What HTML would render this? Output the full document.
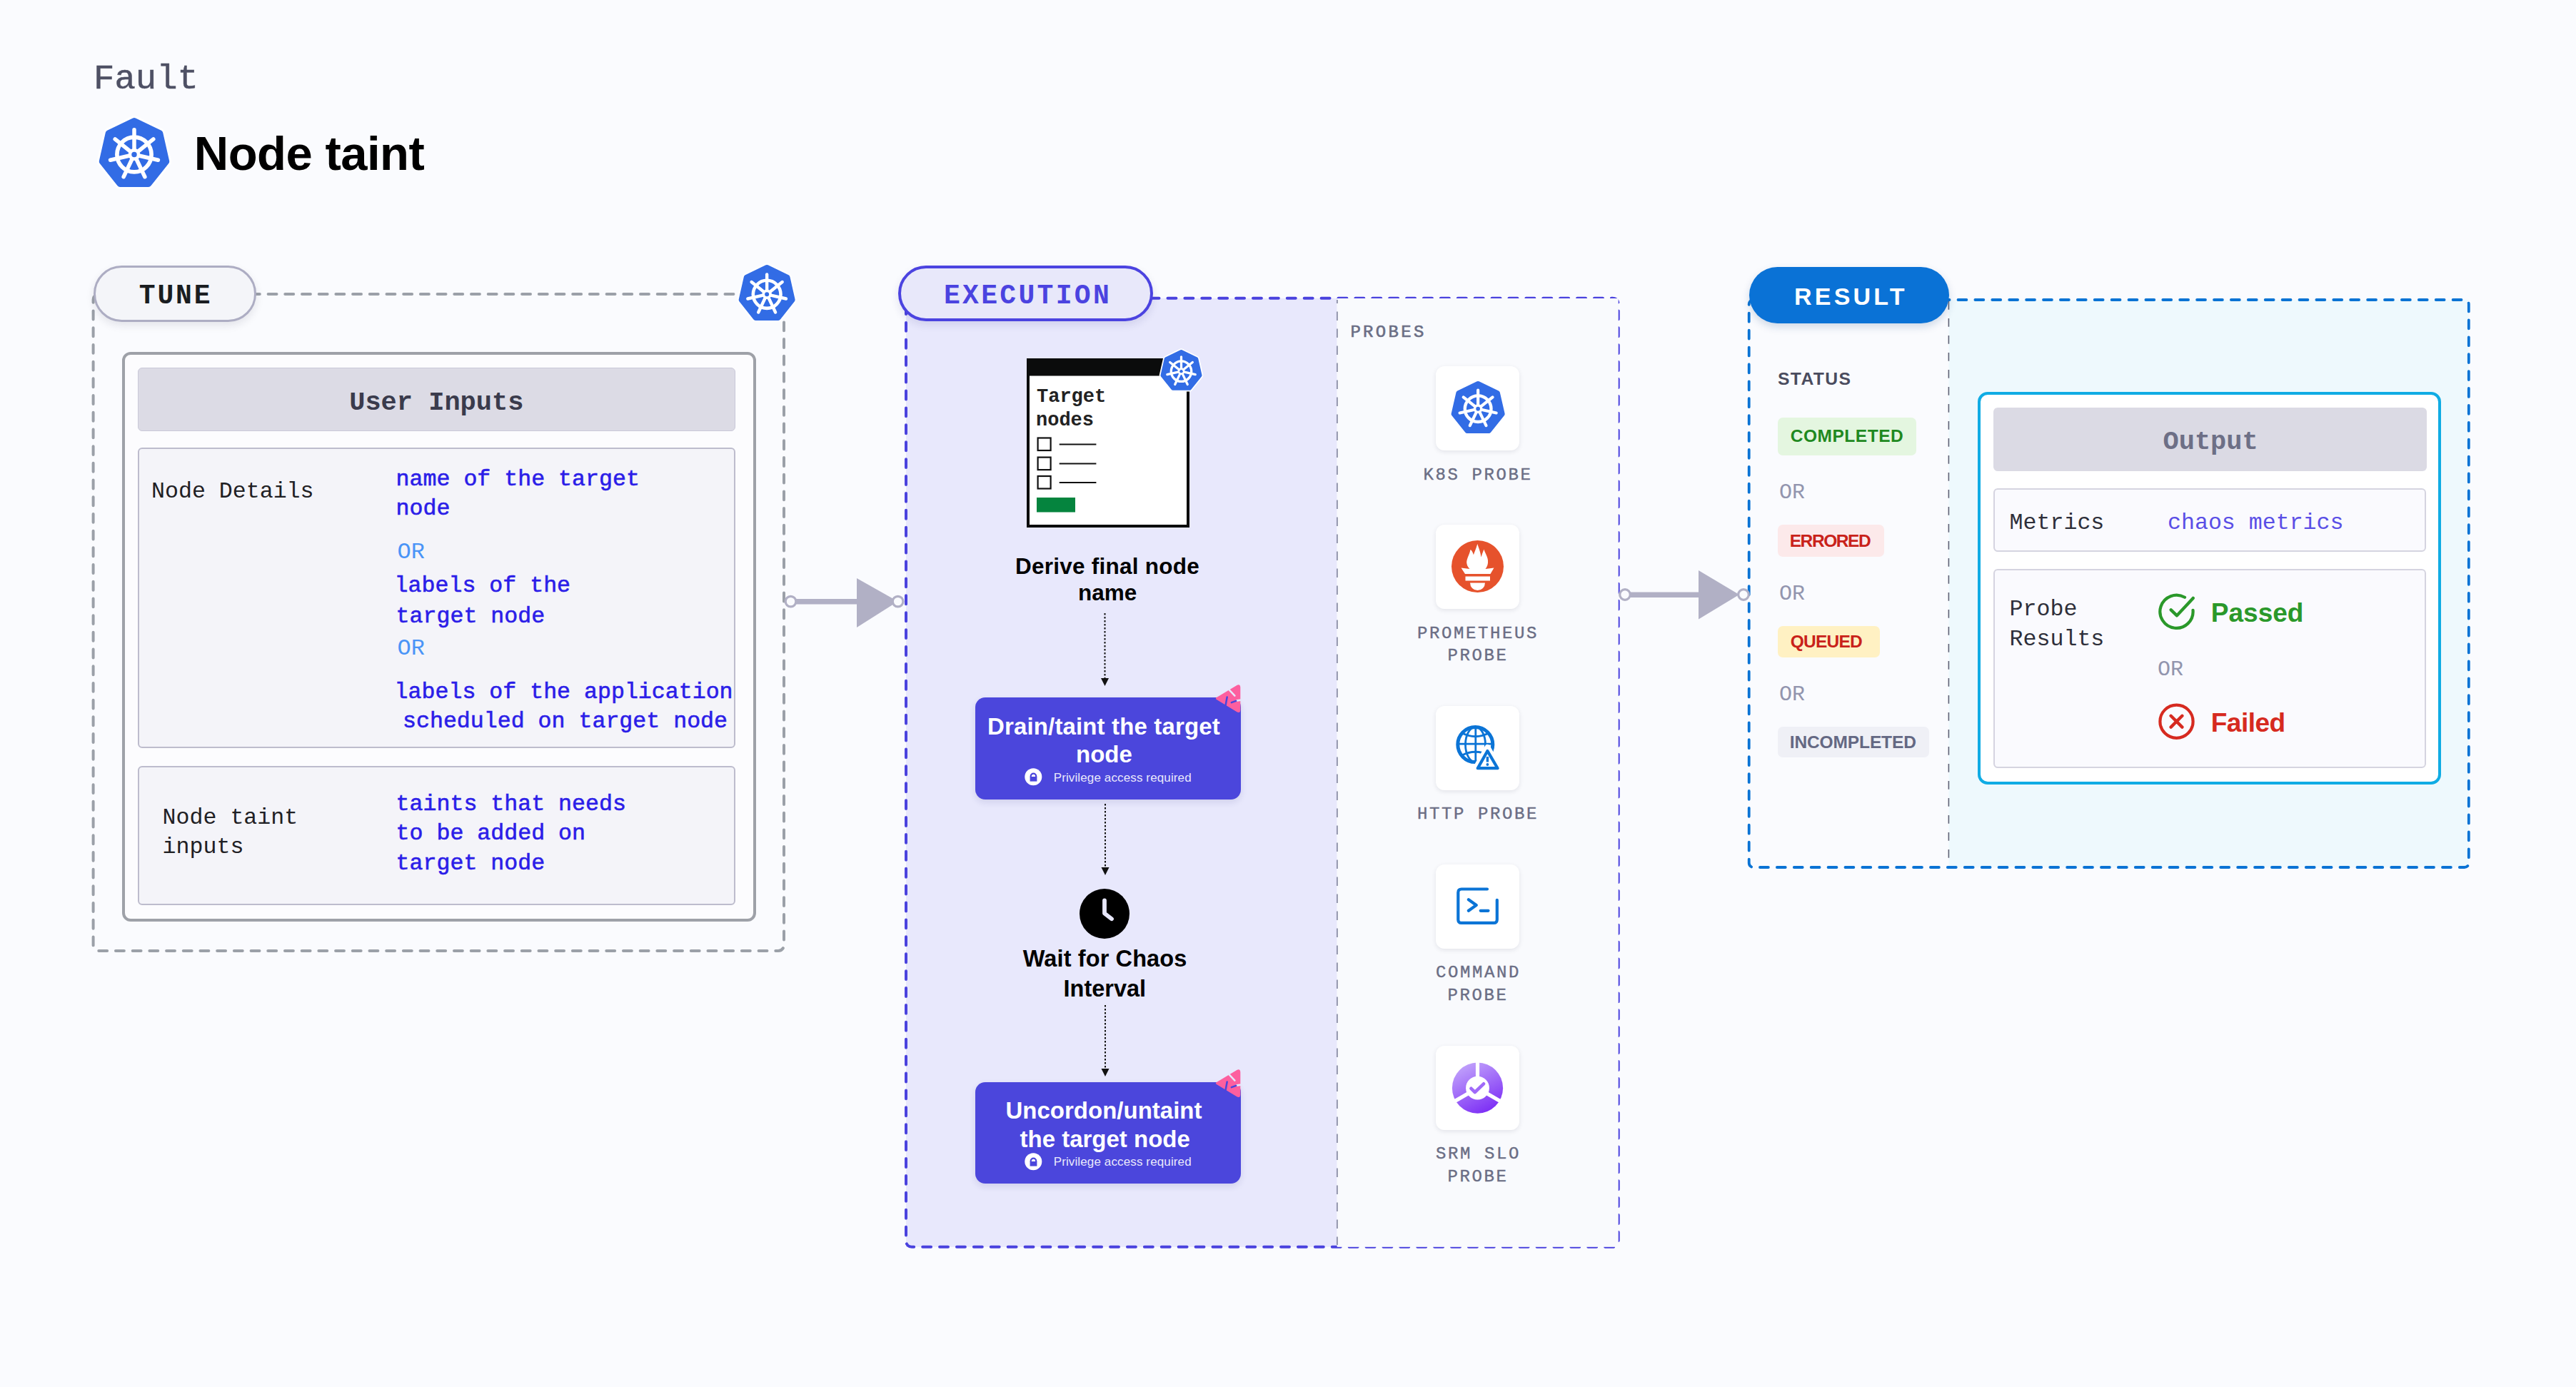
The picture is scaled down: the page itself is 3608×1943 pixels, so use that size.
<!DOCTYPE html>
<html><head><meta charset="utf-8">
<style>
html,body{margin:0;padding:0;}
body{width:3608px;height:1943px;background:#FAFBFE;position:relative;overflow:hidden;font-family:"Liberation Sans",sans-serif;}
.a{position:absolute;}
.t{position:absolute;white-space:pre;line-height:1;}
.fm{font-family:"Liberation Mono",monospace;}
.fs{font-family:"Liberation Sans",sans-serif;}
svg{position:absolute;overflow:visible;}
</style></head><body>
<svg width="0" height="0" style="position:absolute"><defs><symbol id="k8s" viewBox="0 0 100 100" overflow="visible">
<polygon points="50.00,4.44 86.64,22.08 95.69,61.73 70.33,93.52 29.67,93.52 4.31,61.73 13.36,22.08" fill="#fff" stroke="#fff" stroke-width="15" stroke-linejoin="round"/>
<polygon points="50.00,4.44 86.64,22.08 95.69,61.73 70.33,93.52 29.67,93.52 4.31,61.73 13.36,22.08" fill="#326CE5" stroke="#326CE5" stroke-width="9" stroke-linejoin="round"/>
<g stroke="#fff" fill="none" stroke-linecap="round">
<circle cx="50" cy="52" r="24.6" stroke-width="5.8"/>
<g stroke-width="5.6"><line x1="50" y1="52" x2="50" y2="17" transform="rotate(0.00 50 52)"/><line x1="50" y1="52" x2="50" y2="17" transform="rotate(51.43 50 52)"/><line x1="50" y1="52" x2="50" y2="17" transform="rotate(102.86 50 52)"/><line x1="50" y1="52" x2="50" y2="17" transform="rotate(154.29 50 52)"/><line x1="50" y1="52" x2="50" y2="17" transform="rotate(205.71 50 52)"/><line x1="50" y1="52" x2="50" y2="17" transform="rotate(257.14 50 52)"/><line x1="50" y1="52" x2="50" y2="17" transform="rotate(308.57 50 52)"/></g>
</g>
<circle cx="50" cy="52" r="8.5" fill="#fff"/>
<circle cx="50" cy="52" r="3.8" fill="#326CE5"/>
</symbol></defs></svg>
<svg style="left:0;top:0" width="3608" height="1943">
<rect x="130.6" y="411.9" width="967.4" height="920.1" rx="8" fill="none" stroke="#9BA0A8" stroke-width="4" stroke-dasharray="11.9 11.8" stroke-linecap="round"/>
<rect x="1269" y="417.8" width="603.7" height="1329" fill="#E8E8FC"/>
<rect x="1269" y="417.8" width="997.7" height="1329" rx="8" fill="none" stroke="#4A42DE" stroke-width="4" stroke-dasharray="11.9 12" stroke-linecap="round"/>
<rect x="1872.7" y="418" width="394" height="1328.8" fill="#F9FAFD"/>
<line x1="1872.9" y1="420" x2="1872.9" y2="1744" stroke="#9497AD" stroke-width="2" stroke-dasharray="12.3 11.7" stroke-dashoffset="7.4"/>
<rect x="2729.4" y="420" width="728.4" height="795" fill="#EEF9FD"/>
<rect x="2449.7" y="420" width="1008.1" height="795" rx="6" fill="none" stroke="#0A73D4" stroke-width="3.8" stroke-dasharray="11.9 12" stroke-linecap="round"/>
<line x1="2729.4" y1="422" x2="2729.4" y2="1213" stroke="#5F6175" stroke-width="1.6" stroke-dasharray="11.8 12.2"/>
<g fill="#B1B0C5" stroke="none">
<rect x="1112" y="839" width="92" height="7.5"/>
<polygon points="1200,810 1257.6,842.6 1200,879"/>
<rect x="2280" y="829.5" width="102" height="7.5"/>
<polygon points="2379,799 2436,833 2379,867.6"/>
</g>
<g fill="#FAFBFE" stroke="#B1B0C5" stroke-width="3.2">
<circle cx="1107.5" cy="842.6" r="7.3"/>
<circle cx="1257.6" cy="842.6" r="7.3"/>
<circle cx="2276" cy="833" r="7.3"/>
<circle cx="2442" cy="833" r="7.3"/>
</g>
</svg>
<div class="t fm" style="left:131.00px;top:87.46px;font-size:49px;font-weight:normal;color:#4E5064;letter-spacing:0.000px;-webkit-text-stroke:0.5px #4E5064;">Fault</div>
<svg style="left:138px;top:165px" width="100" height="99" viewBox="0 0 100 98" preserveAspectRatio="none"><use href="#k8s"/></svg>
<div class="t fs" style="left:271.80px;top:181.27px;font-size:67px;font-weight:bold;color:#000;letter-spacing:-0.500px;">Node taint</div>
<div class="a" style="left:131.3px;top:371.9px;width:227.39999999999998px;height:78.70000000000005px;box-sizing:border-box;border:3.8px solid #ADADC3;background:#F4F5F9;border-radius:40px;box-shadow:0 5px 12px rgba(30,30,60,0.10);"></div>
<div class="t fm" style="left:194.70px;top:395.99px;font-size:38px;font-weight:bold;color:#1A1D21;letter-spacing:2.900px;">TUNE</div>
<svg style="left:1034.4px;top:370.8px" width="80.29999999999995" height="79.5" viewBox="0 0 100 98" preserveAspectRatio="none"><use href="#k8s"/></svg>
<div class="a" style="left:171px;top:493px;width:888px;height:798px;box-sizing:border-box;border:4px solid #9EA1A8;background:#FCFCFE;border-radius:12px;"></div>
<div class="a" style="left:193px;top:515px;width:837px;height:89px;box-sizing:border-box;border:1.5px solid #C9C8D8;background:#DCDBE5;border-radius:6px;"></div>
<div class="t fm" style="left:489.20px;top:546.05px;font-size:37px;font-weight:bold;color:#3A3B4C;letter-spacing:0.000px;">User Inputs</div>
<div class="a" style="left:193px;top:627px;width:837px;height:421px;box-sizing:border-box;border:2px solid #BDBCCD;background:#F4F4F9;border-radius:6px;"></div>
<div class="a" style="left:193px;top:1073px;width:837px;height:195px;box-sizing:border-box;border:2px solid #BDBCCD;background:#F4F4F9;border-radius:6px;"></div>
<div class="t fm" style="left:212.00px;top:672.79px;font-size:31.6px;font-weight:normal;color:#1F2024;letter-spacing:0.000px;">Node Details</div>
<div class="t fm" style="left:554.60px;top:655.79px;font-size:31.6px;font-weight:normal;color:#2B1DE8;letter-spacing:0.000px;-webkit-text-stroke:0.6px #2B1DE8;">name of the target</div>
<div class="t fm" style="left:554.60px;top:696.79px;font-size:31.6px;font-weight:normal;color:#2B1DE8;letter-spacing:0.000px;-webkit-text-stroke:0.6px #2B1DE8;">node</div>
<div class="t fm" style="left:556.50px;top:758.48px;font-size:32px;font-weight:normal;color:#4A94F7;letter-spacing:0.000px;">OR</div>
<div class="t fm" style="left:552.60px;top:804.79px;font-size:31.6px;font-weight:normal;color:#2B1DE8;letter-spacing:0.000px;-webkit-text-stroke:0.6px #2B1DE8;">labels of the</div>
<div class="t fm" style="left:554.60px;top:847.79px;font-size:31.6px;font-weight:normal;color:#2B1DE8;letter-spacing:0.000px;-webkit-text-stroke:0.6px #2B1DE8;">target node</div>
<div class="t fm" style="left:556.50px;top:892.98px;font-size:32px;font-weight:normal;color:#4A94F7;letter-spacing:0.000px;">OR</div>
<div class="t fm" style="left:552.60px;top:953.79px;font-size:31.6px;font-weight:normal;color:#2B1DE8;letter-spacing:0.000px;-webkit-text-stroke:0.6px #2B1DE8;">labels of the application</div>
<div class="t fm" style="left:564.00px;top:994.79px;font-size:31.6px;font-weight:normal;color:#2B1DE8;letter-spacing:0.000px;-webkit-text-stroke:0.6px #2B1DE8;">scheduled on target node</div>
<div class="t fm" style="left:227.60px;top:1129.79px;font-size:31.6px;font-weight:normal;color:#1F2024;letter-spacing:0.000px;">Node taint</div>
<div class="t fm" style="left:227.60px;top:1170.79px;font-size:31.6px;font-weight:normal;color:#1F2024;letter-spacing:0.000px;">inputs</div>
<div class="t fm" style="left:554.60px;top:1111.39px;font-size:31.6px;font-weight:normal;color:#2B1DE8;letter-spacing:0.000px;-webkit-text-stroke:0.6px #2B1DE8;">taints that needs</div>
<div class="t fm" style="left:554.60px;top:1152.49px;font-size:31.6px;font-weight:normal;color:#2B1DE8;letter-spacing:0.000px;-webkit-text-stroke:0.6px #2B1DE8;">to be added on</div>
<div class="t fm" style="left:554.60px;top:1193.79px;font-size:31.6px;font-weight:normal;color:#2B1DE8;letter-spacing:0.000px;-webkit-text-stroke:0.6px #2B1DE8;">target node</div>
<div class="a" style="left:1257.8px;top:372px;width:357.20000000000005px;height:77.80000000000001px;box-sizing:border-box;border:4px solid #4B43E0;background:#E8E8FA;border-radius:40px;box-shadow:0 5px 12px rgba(40,40,120,0.12);"></div>
<div class="t fm" style="left:1322.00px;top:396.49px;font-size:38px;font-weight:bold;color:#4B43E0;letter-spacing:3.312px;">EXECUTION</div>
<svg style="left:1436px;top:488px" width="250" height="252">
<rect x="4" y="16" width="224" height="233" fill="#fff" stroke="#0B0C0C" stroke-width="4"/>
<rect x="2" y="14" width="228" height="24.5" fill="#0B0C0C"/>
<g fill="none" stroke="#111" stroke-width="2.2">
<rect x="17.6" y="125.5" width="18" height="17.5"/>
<rect x="17.6" y="152.6" width="18" height="17.5"/>
<rect x="17.6" y="179" width="18" height="17.5"/>
</g>
<g stroke="#111" stroke-width="2"><line x1="47.7" y1="134.6" x2="99.4" y2="134.6"/><line x1="47.7" y1="161.6" x2="99.4" y2="161.6"/><line x1="47.7" y1="188" x2="99.4" y2="188"/></g>
<rect x="16" y="209" width="54" height="20.5" fill="#05843E"/>
</svg>
<svg style="left:1625px;top:490px" width="59" height="58" viewBox="0 0 100 98" preserveAspectRatio="none"><use href="#k8s"/></svg>
<div class="t fm" style="left:1452.00px;top:543.32px;font-size:27px;font-weight:bold;color:#222;letter-spacing:0.000px;">Target</div>
<div class="t fm" style="left:1451.00px;top:575.62px;font-size:27px;font-weight:bold;color:#222;letter-spacing:0.000px;">nodes</div>
<div class="t fs" style="left:1422.00px;top:778.33px;font-size:31.5px;font-weight:bold;color:#000;letter-spacing:0.250px;">Derive final node</div>
<div class="t fs" style="left:1510.00px;top:815.33px;font-size:31.5px;font-weight:bold;color:#000;letter-spacing:0.000px;">name</div>
<svg style="left:0;top:0" width="3608" height="1943">
<g stroke="#111" stroke-width="2" stroke-dasharray="2.5 2.5">
<line x1="1547.5" y1="859" x2="1547.5" y2="952"/>
<line x1="1548" y1="1126" x2="1548" y2="1217"/>
<line x1="1548" y1="1408" x2="1548" y2="1499"/>
</g>
<g fill="#111">
<polygon points="1542,950 1553,950 1547.5,961"/>
<polygon points="1542.5,1215 1553.5,1215 1548,1226"/>
<polygon points="1542.5,1497 1553.5,1497 1548,1508"/>
</g>
</svg>
<div class="a" style="left:1366px;top:977.4px;width:372px;height:142.19999999999993px;box-sizing:border-box;background:#4B46DC;border-radius:14px;box-shadow:0 4px 10px rgba(40,40,120,0.12);"></div>
<div class="t fs" style="left:1383.00px;top:1000.86px;font-size:33px;font-weight:bold;color:#fff;letter-spacing:0.143px;">Drain/taint the target</div>
<div class="t fs" style="left:1507.00px;top:1039.86px;font-size:33px;font-weight:bold;color:#fff;letter-spacing:0.000px;">node</div>
<div class="t fs" style="left:1475.70px;top:1080.61px;font-size:17px;font-weight:normal;color:#E9E8FB;letter-spacing:0.125px;">Privilege access required</div>
<svg style="left:1433.7px;top:1075px" width="26" height="26" viewBox="0 0 26 26">
<circle cx="13.3" cy="13.3" r="12" fill="#fff"/>
<path d="M9.7 13.5 V12.4 a3.75 3.75 0 0 1 7.5 0 V13.5" fill="none" stroke="#4B46DC" stroke-width="2.2"/>
<rect x="8.6" y="13" width="9.8" height="6.6" fill="#4B46DC"/>
</svg>
<svg style="left:1699px;top:958.4px" width="39" height="41" viewBox="0 0 40 42">
<path d="M5.5 21 L35 3.2 Q37.8 1.6 37.8 4.8 L37.8 37.4 Q37.8 40.6 35 39 Z" fill="#FD5F9F" stroke="#FD5F9F" stroke-width="3" stroke-linejoin="round"/>
<path d="M23 8.2 L31.2 17" fill="none" stroke="#E6E6FA" stroke-width="2.6" stroke-linecap="round"/>
<path d="M33 24.2 L40 23.2" fill="none" stroke="#E6E6FA" stroke-width="2.8"/>
<path d="M20.2 19 L17.6 33" fill="none" stroke="#4B46DC" stroke-width="2.6" stroke-linecap="round"/>
<path d="M26.5 26.8 L33 24.4" fill="none" stroke="#4B46DC" stroke-width="2.6" stroke-linecap="round"/>
</svg>
<div class="a" style="left:1366px;top:1516px;width:372px;height:141.70000000000005px;box-sizing:border-box;background:#4B46DC;border-radius:14px;box-shadow:0 4px 10px rgba(40,40,120,0.12);"></div>
<div class="t fs" style="left:1408.50px;top:1538.96px;font-size:33px;font-weight:bold;color:#fff;letter-spacing:0.000px;">Uncordon/untaint</div>
<div class="t fs" style="left:1428.50px;top:1579.06px;font-size:33px;font-weight:bold;color:#fff;letter-spacing:0.000px;">the target node</div>
<div class="t fs" style="left:1475.70px;top:1618.61px;font-size:17px;font-weight:normal;color:#E9E8FB;letter-spacing:0.125px;">Privilege access required</div>
<svg style="left:1434px;top:1614px" width="26" height="26" viewBox="0 0 26 26">
<circle cx="13.3" cy="13.3" r="12" fill="#fff"/>
<path d="M9.7 13.5 V12.4 a3.75 3.75 0 0 1 7.5 0 V13.5" fill="none" stroke="#4B46DC" stroke-width="2.2"/>
<rect x="8.6" y="13" width="9.8" height="6.6" fill="#4B46DC"/>
</svg>
<svg style="left:1699px;top:1497px" width="39" height="41" viewBox="0 0 40 42">
<path d="M5.5 21 L35 3.2 Q37.8 1.6 37.8 4.8 L37.8 37.4 Q37.8 40.6 35 39 Z" fill="#FD5F9F" stroke="#FD5F9F" stroke-width="3" stroke-linejoin="round"/>
<path d="M23 8.2 L31.2 17" fill="none" stroke="#E6E6FA" stroke-width="2.6" stroke-linecap="round"/>
<path d="M33 24.2 L40 23.2" fill="none" stroke="#E6E6FA" stroke-width="2.8"/>
<path d="M20.2 19 L17.6 33" fill="none" stroke="#4B46DC" stroke-width="2.6" stroke-linecap="round"/>
<path d="M26.5 26.8 L33 24.4" fill="none" stroke="#4B46DC" stroke-width="2.6" stroke-linecap="round"/>
</svg>
<svg style="left:1512px;top:1245px" width="70" height="70" viewBox="0 0 70 70">
<circle cx="35" cy="35" r="35" fill="#000"/>
<path d="M35 16.3 V34.5 L45 42.3" fill="none" stroke="#E8E8FC" stroke-width="5.8" stroke-linecap="round" stroke-linejoin="round"/>
</svg>
<div class="t fs" style="left:1432.75px;top:1327.18px;font-size:32.5px;font-weight:bold;color:#000;letter-spacing:0.115px;">Wait for Chaos</div>
<div class="t fs" style="left:1489.50px;top:1369.08px;font-size:32.5px;font-weight:bold;color:#000;letter-spacing:0.000px;">Interval</div>
<div class="t fm" style="left:1891.40px;top:453.61px;font-size:24px;font-weight:normal;color:#6B6E85;letter-spacing:3.320px;-webkit-text-stroke:0.6px #6B6E85;">PROBES</div>
<div class="a" style="left:2011px;top:513px;width:117px;height:118px;box-sizing:border-box;background:#fff;border-radius:12px;box-shadow:0 2px 6px rgba(30,30,60,0.10);"></div>
<div class="a" style="left:2011px;top:735px;width:117px;height:118px;box-sizing:border-box;background:#fff;border-radius:12px;box-shadow:0 2px 6px rgba(30,30,60,0.10);"></div>
<div class="a" style="left:2011px;top:989px;width:117px;height:118px;box-sizing:border-box;background:#fff;border-radius:12px;box-shadow:0 2px 6px rgba(30,30,60,0.10);"></div>
<div class="a" style="left:2011px;top:1211px;width:117px;height:118px;box-sizing:border-box;background:#fff;border-radius:12px;box-shadow:0 2px 6px rgba(30,30,60,0.10);"></div>
<div class="a" style="left:2011px;top:1465px;width:117px;height:118px;box-sizing:border-box;background:#fff;border-radius:12px;box-shadow:0 2px 6px rgba(30,30,60,0.10);"></div>
<svg style="left:2031.7px;top:533.6px" width="76.29999999999995" height="74.39999999999998" viewBox="0 0 100 98" preserveAspectRatio="none"><use href="#k8s"/></svg>
<div class="t fm" style="left:1993.50px;top:653.61px;font-size:24px;font-weight:normal;color:#6B6E85;letter-spacing:2.600px;-webkit-text-stroke:0.4px #6B6E85;">K8S PROBE</div>
<svg style="left:2033px;top:757px" width="73" height="73" viewBox="0 0 73 73">
<circle cx="36.5" cy="36.5" r="36.5" fill="#E6522C"/>
<path fill="#fff" d="M36.3 5 C34 13 31.5 17.5 31 20.5 C29.5 16 28 13.5 26.5 13 C25 21 20 27 21.5 33 C22 36 24 38.5 25.5 40 L13.5 38.5 L19 47 L54.5 47 L59.5 38.5 L47.5 40 C50 37 51.5 33 51 28 C50.5 22 46.5 17 45.5 12.5 C43.5 17 42.5 20.5 41.5 23.5 C40.5 15.5 37.5 9 36.3 5 Z"/>
<rect x="19.5" y="50.5" width="34.5" height="6" fill="#fff"/>
<path fill="#fff" d="M26 59.5 H47 A10.5 10.5 0 0 1 26 59.5 Z"/>
</svg>
<div class="t fm" style="left:1985.00px;top:875.61px;font-size:24px;font-weight:normal;color:#6B6E85;letter-spacing:2.600px;-webkit-text-stroke:0.4px #6B6E85;">PROMETHEUS</div>
<div class="t fm" style="left:2027.50px;top:906.61px;font-size:24px;font-weight:normal;color:#6B6E85;letter-spacing:2.600px;-webkit-text-stroke:0.4px #6B6E85;">PROBE</div>
<svg style="left:2010px;top:985px" width="120" height="125" viewBox="0 0 120 125">
<g fill="none" stroke="#0B74D6">
<circle cx="56.3" cy="58.1" r="24.5" stroke-width="5"/>
<ellipse cx="56.5" cy="58.1" rx="14" ry="24.5" stroke-width="2.8"/>
<line x1="56.8" y1="34" x2="56.8" y2="82" stroke-width="2.8"/>
<line x1="32" y1="57.2" x2="80.5" y2="57.2" stroke-width="2.8"/>
<path d="M37 41.5 Q56.5 52 76 41.5" stroke-width="2.8"/>
<path d="M37 73.5 Q56.5 63 76 73.5" stroke-width="2.8"/>
</g>
<path d="M73.4 62 L92.5 95.5 H54.5 Z" fill="#fff" stroke="#fff" stroke-width="8" stroke-linejoin="round"/>
<path d="M73.4 67 L87.6 91.2 H59.7 Z" fill="#fff" stroke="#0B74D6" stroke-width="4.2" stroke-linejoin="round"/>
<line x1="73.4" y1="75" x2="73.4" y2="82.5" stroke="#0B74D6" stroke-width="3.4"/>
<circle cx="73.4" cy="86" r="1.9" fill="#0B74D6"/>
</svg>
<div class="t fm" style="left:1985.00px;top:1129.31px;font-size:24px;font-weight:normal;color:#6B6E85;letter-spacing:2.600px;-webkit-text-stroke:0.4px #6B6E85;">HTTP PROBE</div>
<svg style="left:2010px;top:1205px" width="120" height="130" viewBox="0 0 120 130">
<g fill="none" stroke="#0B74D6" stroke-width="4.2" stroke-linecap="round" stroke-linejoin="round">
<path d="M73 40.5 H37 Q32.3 40.5 32.3 45.2 V83.2 Q32.3 87.9 37 87.9 H82.1 Q86.8 87.9 86.8 83.2 V55.8"/>
<path d="M46.9 55.3 L57.7 63 L46.9 70.8"/>
<line x1="63.7" y1="70.8" x2="74.5" y2="70.8"/>
</g>
</svg>
<div class="t fm" style="left:2011.00px;top:1351.41px;font-size:24px;font-weight:normal;color:#6B6E85;letter-spacing:2.600px;-webkit-text-stroke:0.4px #6B6E85;">COMMAND</div>
<div class="t fm" style="left:2027.50px;top:1383.21px;font-size:24px;font-weight:normal;color:#6B6E85;letter-spacing:2.600px;-webkit-text-stroke:0.4px #6B6E85;">PROBE</div>
<svg style="left:2010px;top:1460px" width="120" height="130" viewBox="0 0 120 130">
<defs><linearGradient id="srmg" x1="0.25" y1="0" x2="0.75" y2="1"><stop offset="0" stop-color="#C2A4FB"/><stop offset="1" stop-color="#7A2AF5"/></linearGradient>
<mask id="srmm"><rect width="120" height="130" fill="#fff"/><circle cx="59.5" cy="64.2" r="16.4" fill="#000"/>
<g stroke="#000" stroke-width="5.2"><line x1="59.5" y1="64.2" x2="59.5" y2="20"/><line x1="59.5" y1="64.2" x2="98" y2="86.4"/><line x1="59.5" y1="64.2" x2="21" y2="86.4"/></g></mask></defs>
<circle cx="59.5" cy="64.2" r="35.6" fill="url(#srmg)" mask="url(#srmm)"/>
<path d="M50.5 64.8 L55.8 70 L68 58.3" fill="none" stroke="#A06AF9" stroke-width="4.6" stroke-linecap="round" stroke-linejoin="round"/>
</svg>
<div class="t fm" style="left:2011.00px;top:1605.31px;font-size:24px;font-weight:normal;color:#6B6E85;letter-spacing:2.600px;-webkit-text-stroke:0.4px #6B6E85;">SRM SLO</div>
<div class="t fm" style="left:2027.50px;top:1637.11px;font-size:24px;font-weight:normal;color:#6B6E85;letter-spacing:2.600px;-webkit-text-stroke:0.4px #6B6E85;">PROBE</div>
<div class="a" style="left:2450px;top:374px;width:279.5px;height:79px;box-sizing:border-box;background:#0A72D6;border-radius:40px;box-shadow:0 5px 12px rgba(10,60,120,0.18);"></div>
<div class="t fs" style="left:2513.00px;top:397.81px;font-size:34px;font-weight:bold;color:#fff;letter-spacing:4.200px;">RESULT</div>
<div class="t fs" style="left:2489.90px;top:518.89px;font-size:24.7px;font-weight:bold;color:#4A4C5E;letter-spacing:1.420px;">STATUS</div>
<div class="a" style="left:2490px;top:585px;width:194px;height:53px;box-sizing:border-box;background:#E4F6E0;border-radius:7px;"></div>
<div class="t fs" style="left:2507.70px;top:599.26px;font-size:24.5px;font-weight:bold;color:#1F891F;letter-spacing:0.525px;">COMPLETED</div>
<div class="a" style="left:2490px;top:735px;width:149px;height:44.700000000000045px;box-sizing:border-box;background:#FCE9EA;border-radius:7px;"></div>
<div class="t fs" style="left:2506.70px;top:745.96px;font-size:24.5px;font-weight:bold;color:#C9221A;letter-spacing:-1.417px;">ERRORED</div>
<div class="a" style="left:2490px;top:877px;width:143px;height:43.60000000000002px;box-sizing:border-box;background:#FFF1C3;border-radius:7px;"></div>
<div class="t fs" style="left:2507.70px;top:886.56px;font-size:24.5px;font-weight:bold;color:#C9221A;letter-spacing:-0.760px;">QUEUED</div>
<div class="a" style="left:2490px;top:1018.4px;width:211.80000000000018px;height:42.80000000000007px;box-sizing:border-box;background:#EFF0F6;border-radius:7px;"></div>
<div class="t fs" style="left:2506.70px;top:1028.26px;font-size:24.5px;font-weight:bold;color:#646883;letter-spacing:-0.110px;">INCOMPLETED</div>
<div class="t fm" style="left:2492.00px;top:674.82px;font-size:30px;font-weight:normal;color:#9295AE;letter-spacing:0.000px;">OR</div>
<div class="t fm" style="left:2492.00px;top:816.92px;font-size:30px;font-weight:normal;color:#9295AE;letter-spacing:0.000px;">OR</div>
<div class="t fm" style="left:2492.00px;top:957.82px;font-size:30px;font-weight:normal;color:#9295AE;letter-spacing:0.000px;">OR</div>
<div class="a" style="left:2770px;top:548.7px;width:649.4000000000001px;height:550.7px;box-sizing:border-box;border:4.5px solid #10ACE4;background:#FFFFFF;border-radius:14px;"></div>
<div class="a" style="left:2791.8px;top:571px;width:607.1999999999998px;height:89px;box-sizing:border-box;background:#DBDAE4;border-radius:6px;"></div>
<div class="t fm" style="left:3029.50px;top:600.95px;font-size:37px;font-weight:bold;color:#6D6F86;letter-spacing:0.000px;">Output</div>
<div class="a" style="left:2791.8px;top:684px;width:606.1999999999998px;height:89px;box-sizing:border-box;border:2px solid #D5D4E0;background:#FAFAFE;border-radius:6px;"></div>
<div class="a" style="left:2791.8px;top:797.4px;width:606.1999999999998px;height:279.0000000000001px;box-sizing:border-box;border:2px solid #D5D4E0;background:#FAFAFE;border-radius:6px;"></div>
<div class="t fm" style="left:2814.60px;top:716.79px;font-size:31.6px;font-weight:normal;color:#2E2F3A;letter-spacing:0.000px;">Metrics</div>
<div class="t fm" style="left:3036.00px;top:716.79px;font-size:31.6px;font-weight:normal;color:#5A4FE6;letter-spacing:0.000px;">chaos metrics</div>
<div class="t fm" style="left:2814.60px;top:837.69px;font-size:31.6px;font-weight:normal;color:#2E2F3A;letter-spacing:0.000px;">Probe</div>
<div class="t fm" style="left:2814.60px;top:879.79px;font-size:31.6px;font-weight:normal;color:#2E2F3A;letter-spacing:0.000px;">Results</div>
<svg style="left:3010px;top:820px" width="80" height="240" viewBox="0 0 80 240">
<path d="M50.05 16.8 A23.1 23.1 0 1 0 61.5 34.8" fill="none" stroke="#2A982A" stroke-width="4.2" stroke-linecap="round"/>
<path d="M30.7 34.3 L39 42.3 L61.7 17.9" fill="none" stroke="#2A982A" stroke-width="4.4" stroke-linecap="round" stroke-linejoin="round"/>
<circle cx="38.5" cy="190.7" r="23.1" fill="none" stroke="#D62A20" stroke-width="4.2"/>
<path d="M30.6 182.8 L46.4 198.6 M46.4 182.8 L30.6 198.6" fill="none" stroke="#D62A20" stroke-width="4.4" stroke-linecap="round"/>
</svg>
<div class="t fs" style="left:3096.80px;top:839.67px;font-size:37px;font-weight:bold;color:#2A982A;letter-spacing:0.000px;">Passed</div>
<div class="t fm" style="left:3022.00px;top:922.62px;font-size:30px;font-weight:normal;color:#9295AE;letter-spacing:0.000px;">OR</div>
<div class="t fs" style="left:3096.80px;top:993.67px;font-size:37px;font-weight:bold;color:#D62A20;letter-spacing:-0.540px;">Failed</div>
</body></html>
